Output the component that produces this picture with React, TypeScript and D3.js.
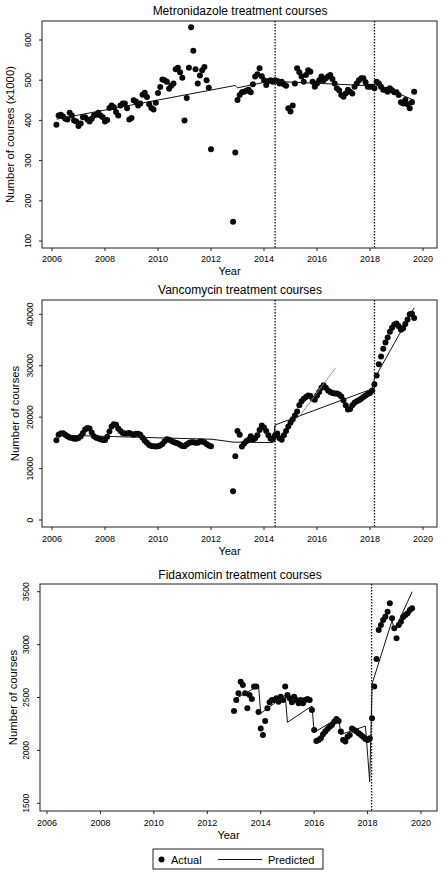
import * as d3 from "d3";

// monthly series, first value = first month given
const METRO_START: [number, number] = [2006, 3];
const METRO_VALUES: (number | null)[] = [
  // 2006 (Mar-Dec)
  389, 412, 414, 410, 404, 402, 419, 412, 400, 397,
  // 2007
  386, 392, 408, 408, 402, 397, 404, 412, 414, 419, 412, 408,
  // 2008
  397, 401, 431, 437, 433, 421, 412, 437, 442, 442, 430, 402,
  // 2009
  406, 450, 447, 437, 442, 464, 469, 458, 440, 431, 427, 444,
  // 2010
  468, 483, 502, 500, 496, 479, 486, 492, 527, 531, 520, 506,
  // 2011
  400, 456, 531, 632, 573, 527, 492, 512, 525, 533, 500, 481,
  // 2012
  328, null, null, null, null, null, null, null, null, null, 148, 320,
  // 2013
  451, 463, 470, 471, 474, 476, 470, 490, 509, 515, 530, 510,
  // 2014
  500, 488, 498, 500, 496, 500, 498, 492, 496, 490, 486, 430,
  // 2015
  422, 437, 492, 530, 520, 509, 496, 513, 525, 521, 496, 484,
  // 2016
  492, 500, 509, 500, 505, 509, 513, 503, 492, 480, 475, 463,
  // 2017
  459, 467, 476, 471, 467, 484, 492, 500, 505, 505, 495, 484,
  // 2018
  484, 484, 480, 496, 492, 484, 476, 476, 471, 480, 475, 470,
  // 2019 (Jan-Sep)
  470, 463, 445, 442, 451, 440, 430, 445, 471,
];
const METRO_PRED: [number, number][] = [
  [2006.17, 403], [2012.92, 487], [2013.0, 481], [2014.33, 499],
  [2014.42, 497], [2018.08, 486], [2018.17, 492], [2019.67, 450],
];

const VANC_START: [number, number] = [2006, 3];
const VANC_VALUES: (number | null)[] = [
  15500, 16580, 16800, 16850, 16580, 16300, 16050, 15930, 15800, 15780,
  15930, 16300, 16900, 17600, 17900, 17800, 17000, 16300, 16000, 15850, 15700, 15550,
  15550, 16200, 17200, 18200, 18600, 18500, 17800, 17300, 16900, 16800, 16800, 16900,
  16700, 16600, 16750, 16770, 16600, 16000, 15400, 15000, 14600, 14400, 14320, 14300,
  14320, 14500, 14800, 15300, 15700, 15600, 15400, 15150, 15000, 14900, 14650, 14400,
  14320, 14700, 14950, 15100, 15100, 15000, 15000, 15250, 15250, 15100, 14800, 14500,
  14320, null, null, null, null, null, null, null, null, null, 5600, 12400,
  17300, 16600, 14300, 14900, 15300, 15600, 16300, 15600, 15900, 16500, 17500, 18400,
  18000, 17300, 16500, 15800, 15700, 16500, 16800, 15900, 15600, 16500, 17300, 18200,
  18900, 19600, 20300, 21100, 22300, 23100, 23600, 23900, 24200, 24100, 23600, 23400,
  24200, 24900, 25700, 26200, 25700, 25200, 24900, 24700, 24600, 24600, 24400, 24000,
  23300, 22300, 21500, 21600, 22300, 22800, 23100, 23300, 23600, 23900, 24200, 24500,
  24700, 25200, 26400, 28100, 30300, 31800, 33300, 34500, 35500, 36600, 37400, 38000,
  38200, 37700, 37000, 37300, 38100, 39000, 40000, 40100, 39300,
];
const VANC_PRED: [number, number][] = [
  [2006.17, 16520], [2012.04, 15700], [2012.83, 15150], [2014.33, 15050],
  [2014.42, 18480], [2018.08, 25500], [2018.17, 27500], [2019.67, 41300],
];
const VANC_PRED_ALT: [number, number][] = [[2015.3, 19900], [2016.7, 29600]];

const FIDAX_START: [number, number] = [2013, 1];
const FIDAX_VALUES: number[] = [
  2372, 2477, 2540, 2650, 2618, 2540, 2398, 2524, 2486, 2603, 2603, 2363,
  2208, 2146, 2278, 2398, 2455, 2477, 2477, 2492, 2461, 2508, 2477, 2603,
  2524, 2492, 2455, 2508, 2477, 2445, 2477, 2445, 2477, 2486, 2477, 2382,
  2193, 2089, 2099, 2115, 2152, 2178, 2203, 2224, 2240, 2271, 2297, 2278,
  2178, 2099, 2083, 2130, 2146, 2208, 2193, 2178, 2162, 2146, 2130, 2108,
  2099, 2115, 2303, 2603, 2865, 3138, 3185, 3232, 3264, 3311, 3390, 3248,
  3154, 3059, 3185, 3216, 3260, 3280, 3296, 3327, 3343,
];
const FIDAX_PRED: [number, number][] = [
  [2013.0, 2480], [2013.92, 2610], [2014.0, 2350], [2014.92, 2520],
  [2015.0, 2265], [2015.92, 2420], [2016.0, 2170], [2016.92, 2310],
  [2017.0, 2150], [2017.92, 2230], [2018.08, 1705], [2018.17, 2630],
  [2018.92, 3230], [2019.0, 3130], [2019.67, 3500],
];

const INTERVENTIONS = [2014.42, 2018.17];
const X_TICKS = [2006, 2008, 2010, 2012, 2014, 2016, 2018, 2020];

const FONT = "'Liberation Sans', Arial, Helvetica, sans-serif";
const DOT_R = 3;

type Pt = { t: number; v: number };

function monthly(start: [number, number], values: (number | null)[]): Pt[] {
  const out: Pt[] = [];
  values.forEach((v, i) => {
    if (v == null) return;
    out.push({ t: start[0] + (start[1] - 1 + i) / 12, v });
  });
  return out;
}

interface PanelProps {
  title: string;
  yTitle: string;
  box: { l: number; r: number; t: number; b: number };
  xRange: [number, number];
  yDomain: [number, number];
  yRange: [number, number];
  yTicks: number[];
  points: Pt[];
  pred: [number, number][];
  alt?: [number, number][];
  lines: number[];
  titleY: number;
  xLabelY: number;
  yearY: number;
  yTickX: number;
  yTitleX: number;
}

function Panel(p: PanelProps) {
  const x = d3.scaleLinear().domain([2006, 2020]).range(p.xRange);
  const y = d3.scaleLinear().domain(p.yDomain).range(p.yRange);
  const line = d3
    .line<[number, number]>()
    .x((d) => x(d[0]))
    .y((d) => y(d[1]));
  const { box } = p;
  const cx = (box.l + box.r) / 2;
  const cy = (box.t + box.b) / 2;

  return (
    <g>
      <text x={240} y={p.titleY} textAnchor="middle" fontSize={12} fontFamily={FONT}>
        {p.title}
      </text>
      <rect
        x={box.l}
        y={box.t}
        width={box.r - box.l}
        height={box.b - box.t}
        fill="#fff"
        stroke="#222"
        strokeWidth={1}
      />
      {X_TICKS.map((t) => (
        <g key={t}>
          <line x1={x(t)} x2={x(t)} y1={box.b} y2={box.b + 3} stroke="#222" />
          <text x={x(t)} y={p.xLabelY} textAnchor="middle" fontSize={9} fontFamily={FONT}>
            {t}
          </text>
        </g>
      ))}
      {p.yTicks.map((t) => (
        <g key={t}>
          <line x1={box.l - 3} x2={box.l} y1={y(t)} y2={y(t)} stroke="#222" />
          <text
            x={p.yTickX + 3}
            y={y(t)}
            textAnchor="middle"
            fontSize={8.5}
            fontFamily={FONT}
            transform={`rotate(-90,${p.yTickX + 3},${y(t)})`}
          >
            {t}
          </text>
        </g>
      ))}
      <text x={cx - 10} y={p.yearY} textAnchor="middle" fontSize={11} fontFamily={FONT}>
        Year
      </text>
      <text
        x={p.yTitleX + 4}
        y={cy}
        textAnchor="middle"
        fontSize={11.3}
        fontFamily={FONT}
        transform={`rotate(-90,${p.yTitleX + 4},${cy})`}
      >
        {p.yTitle}
      </text>
      {p.points.map((d, i) => (
        <circle key={i} cx={x(d.t)} cy={y(d.v)} r={DOT_R} fill="#0a0a0a" />
      ))}
      <path d={line(p.pred) ?? ""} fill="none" stroke="#111" strokeWidth={1} />
      {p.alt && (
        <path d={line(p.alt) ?? ""} fill="none" stroke="#8a8a8a" strokeWidth={0.9} />
      )}
      {p.lines.map((t) => (
        <line
          key={t}
          x1={x(t)}
          x2={x(t)}
          y1={box.t}
          y2={box.b}
          stroke="#111"
          strokeWidth={1.3}
          strokeDasharray="1.6,1.4"
        />
      ))}
    </g>
  );
}

export default function App() {
  const metro = monthly(METRO_START, METRO_VALUES);
  const vanc = monthly(VANC_START, VANC_VALUES);
  const fidax = monthly(FIDAX_START, FIDAX_VALUES);

  return (
    <svg
      width={448}
      height={876}
      style={{ position: "absolute", left: 0, top: 0, background: "#fff" }}
    >
      <rect width={448} height={876} fill="#fff" />
      <Panel
        title="Metronidazole treatment courses"
        yTitle="Number of courses (x1000)"
        box={{ l: 42, r: 437, t: 21, b: 248 }}
        xRange={[52, 423]}
        yDomain={[100, 600]}
        yRange={[241, 40]}
        yTicks={[100, 200, 300, 400, 500, 600]}
        points={metro}
        pred={METRO_PRED}
        lines={INTERVENTIONS}
        titleY={15}
        xLabelY={262}
        yearY={275}
        yTickX={28}
        yTitleX={10}
      />
      <Panel
        title="Vancomycin treatment courses"
        yTitle="Number of courses"
        box={{ l: 42, r: 437, t: 300, b: 527 }}
        xRange={[52, 423]}
        yDomain={[0, 40000]}
        yRange={[520, 314.3]}
        yTicks={[0, 10000, 20000, 30000, 40000]}
        points={vanc}
        pred={VANC_PRED}
        alt={VANC_PRED_ALT}
        lines={INTERVENTIONS}
        titleY={294}
        xLabelY={542}
        yearY={555}
        yTickX={30}
        yTitleX={15}
      />
      <Panel
        title="Fidaxomicin treatment courses"
        yTitle="Number of courses"
        box={{ l: 40, r: 437, t: 584, b: 811 }}
        xRange={[47, 421]}
        yDomain={[1500, 3500]}
        yRange={[803.3, 591.7]}
        yTicks={[1500, 2000, 2500, 3000, 3500]}
        points={fidax}
        pred={FIDAX_PRED}
        lines={[INTERVENTIONS[1] - 0.02]}
        titleY={579}
        xLabelY={826}
        yearY={839}
        yTickX={26}
        yTitleX={13}
      />
      <g>
        <rect x={153} y={849} width={170} height={20} fill="#fff" stroke="#222" />
        <circle cx={161.5} cy={859.5} r={DOT_R} fill="#0a0a0a" />
        <text x={171} y={863.5} fontSize={11} fontFamily={FONT}>
          Actual
        </text>
        <line x1={218} x2={262} y1={859.5} y2={859.5} stroke="#111" />
        <text x={268} y={863.5} fontSize={11} fontFamily={FONT}>
          Predicted
        </text>
      </g>
    </svg>
  );
}
